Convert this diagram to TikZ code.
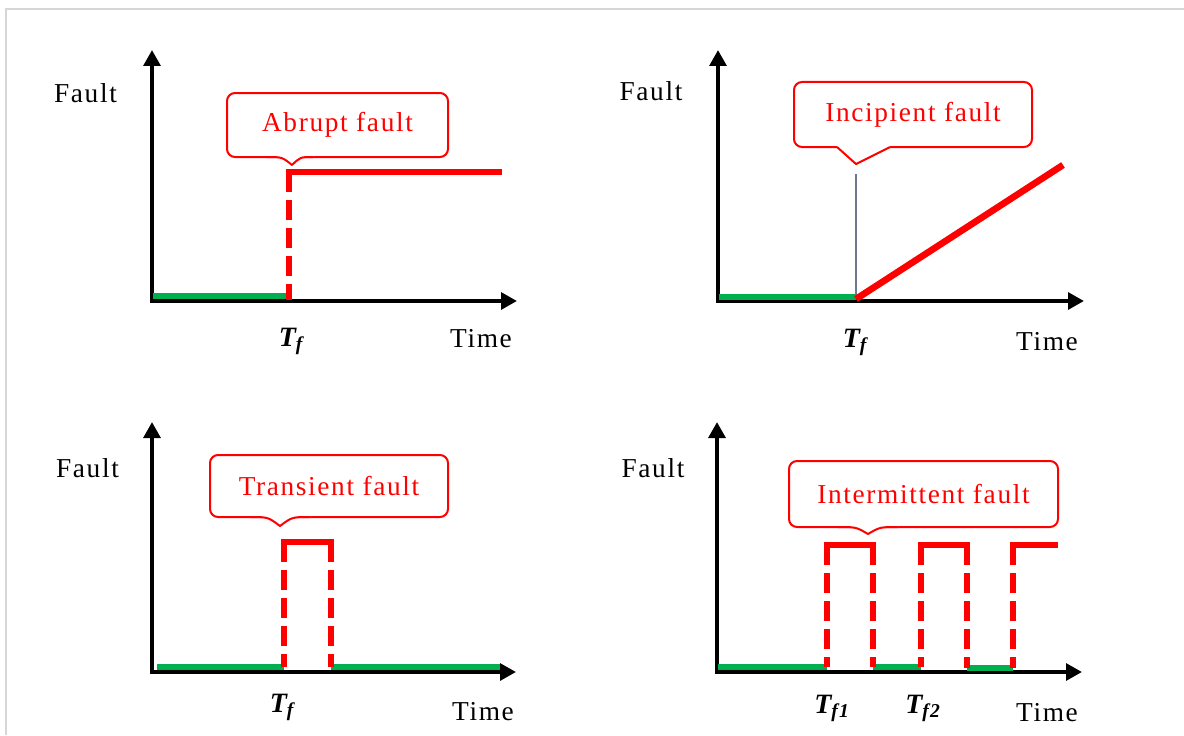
\documentclass[tikz,border=0pt]{standalone}
\usepackage{fontspec}
\setmainfont{Liberation Serif}[LetterSpace=6]
\usetikzlibrary{arrows.meta}
\definecolor{fred}{RGB}{255,0,0}
\definecolor{fgreen}{RGB}{0,176,80}
\definecolor{frameg}{RGB}{214,214,214}
\definecolor{thing}{RGB}{110,120,140}
\begin{document}
\begin{tikzpicture}[x=0.75pt,y=-0.75pt,
  axis/.style={line width=3pt,{Triangle[length=12pt,width=12.5pt]}-{Triangle[length=12pt,width=12.5pt]}},
  okline/.style={line width=4.5pt,fgreen},
  fltline/.style={line width=5pt,fred},
  flttop/.style={fltline,line cap=rect},
  fltdash/.style={fltline,dash pattern=on 15pt off 6pt},
  callbox/.style={draw=fred,line width=1.5pt,rounded corners=6pt,fill=white,text=fred,
    font=\fontsize{20.5}{23}\selectfont,inner sep=0pt},
  ptrline/.style={draw=fred,line width=1.5pt,line join=round},
  lbl/.style={font=\fontsize{20.5}{23}\selectfont,inner sep=0pt},
  tflbl/.style={font=\fontsize{21}{23}\selectfont\bfseries\itshape,inner sep=0pt}
]
\useasboundingbox (0,0) rectangle (1184,735);
\fill[white] (0,0) rectangle (1184,735);
\draw[frameg,line width=1.5pt] (6,735) -- (6,9) -- (1184,9);

% ---------------- Panel 1: Abrupt fault ----------------
\coordinate (A0) at (152,301);
\coordinate (Ay) at (152,50);
\coordinate (Ax) at (517,301);
\draw[axis] (Ay) -- (A0) -- (Ax);
\coordinate (Ag1) at (153,296);
\coordinate (Ag2) at (287,296);
\draw[okline] (Ag1) -- (Ag2);
\coordinate (Ab) at (289,300);
\coordinate (At) at (289,172);
\coordinate (Ae) at (499,172);
\draw[fltdash] (At) -- (Ab);
\draw[flttop] (At) -- (Ae);
\node[callbox,minimum width=221*0.75pt,minimum height=64*0.75pt] (cA) at (337.5,125) {Abrupt fault};
\fill[white] (267,155) -- (267,157) .. controls (282,157) .. (292,165) .. controls (300.4,157) .. (313,157) -- (313,155) -- cycle;
\draw[ptrline] (267,157) .. controls (282,157) .. (292,165) .. controls (300.4,157) .. (313,157);
\node[lbl,anchor=base] (AF) at (85.5,103) {Fault};
\node[tflbl,anchor=base] (AT) at (291,346) {T\textsubscript{f}};
\node[lbl,anchor=base] (ATi) at (481,347) {Time};

% ---------------- Panel 2: Incipient fault ----------------
\coordinate (B0) at (718,301);
\coordinate (By) at (718,50);
\coordinate (Bx) at (1084,301);
\draw[axis] (By) -- (B0) -- (Bx);
\coordinate (Bg1) at (719,297);
\coordinate (Bg2) at (856,297);
\draw[okline] (Bg1) -- (Bg2);
\coordinate (Bv1) at (856,174);
\coordinate (Bv2) at (856,298);
\draw[thing,line width=0.8pt] (Bv1) -- (Bv2);
\coordinate (Bs) at (856,299);
\coordinate (Be) at (1063,165);
\draw[fltline] (Bs) -- (Be);
\node[callbox,minimum width=238*0.75pt,minimum height=65*0.75pt] (cB) at (913,114.5) {Incipient fault};
\fill[white] (837,145) -- (837,147) -- (856,164) -- (890,147) -- (890,145) -- cycle;
\draw[ptrline] (837,147) -- (856,164) -- (890,147);
\node[lbl,anchor=base] (BF) at (651,100) {Fault};
\node[tflbl,anchor=base] (BT) at (855,347) {T\textsubscript{f}};
\node[lbl,anchor=base] (BTi) at (1047,350) {Time};

% ---------------- Panel 3: Transient fault ----------------
\coordinate (C0) at (152,672);
\coordinate (Cy) at (152,422);
\coordinate (Cx) at (516,672);
\draw[axis] (Cy) -- (C0) -- (Cx);
\coordinate (Cg1) at (157,667);
\coordinate (Cg2) at (284,667);
\coordinate (Cg3) at (331,667);
\coordinate (Cg4) at (500,667);
\draw[okline] (Cg1) -- (Cg2);
\draw[okline] (Cg3) -- (Cg4);
\coordinate (Ct1) at (284,542);
\coordinate (Ct2) at (331,542);
\draw[fltdash] (Ct1) -- (Cg2);
\draw[fltdash] (Ct2) -- (Cg3);
\draw[flttop] (Ct1) -- (Ct2);
\node[callbox,minimum width=238*0.75pt,minimum height=62*0.75pt] (cC) at (329,486) {Transient fault};
\fill[white] (250,515) -- (250,517) .. controls (268,517) .. (280,526) .. controls (292,517) .. (310,517) -- (310,515) -- cycle;
\draw[ptrline] (250,517) .. controls (268,517) .. (280,526) .. controls (292,517) .. (310,517);
\node[lbl,anchor=base] (CF) at (87.5,477) {Fault};
\node[tflbl,anchor=base] (CT) at (282,712) {T\textsubscript{f}};
\node[lbl,anchor=base] (CTi) at (483,720) {Time};

% ---------------- Panel 4: Intermittent fault ----------------
\coordinate (D0) at (717,672);
\coordinate (Dy) at (717,422);
\coordinate (Dx) at (1082,672);
\draw[axis] (Dy) -- (D0) -- (Dx);
\coordinate (Dg1) at (718,667);
\coordinate (Dg2) at (827,667);
\coordinate (Dg3) at (873,667);
\coordinate (Dg4) at (921,667);
\coordinate (Dg5) at (967,667.5);
\coordinate (Dg6) at (1013,667.5);
\draw[okline] (Dg1) -- (Dg2);
\draw[okline] (Dg3) -- (Dg4);
\draw[okline] (Dg5) -- (Dg6);
\coordinate (Dt1) at (827,545);
\coordinate (Dt2) at (873,545);
\coordinate (Dt3) at (921,545);
\coordinate (Dt4) at (967,545);
\coordinate (Dt5) at (1013,545);
\coordinate (Dt6) at (1055,545);
\draw[fltdash] (Dt1) -- (Dg2);
\draw[fltdash] (Dt2) -- (Dg3);
\draw[fltdash] (Dt3) -- (Dg4);
\draw[fltdash] (Dt4) -- (Dg5);
\draw[fltdash] (Dt5) -- (Dg6);
\draw[flttop] (Dt1) -- (Dt2);
\draw[flttop] (Dt3) -- (Dt4);
\draw[flttop] (Dt5) -- (Dt6);
\node[callbox,minimum width=269*0.75pt,minimum height=66*0.75pt] (cD) at (923.5,494) {Intermittent fault};
\fill[white] (838,525) -- (838,527) .. controls (856,527) .. (868,534) .. controls (880,527) .. (898,527) -- (898,525) -- cycle;
\draw[ptrline] (838,527) .. controls (856,527) .. (868,534) .. controls (880,527) .. (898,527);
\node[lbl,anchor=base] (DF) at (653,477) {Fault};
\node[tflbl,anchor=base] (DT1) at (832,713) {T\textsubscript{f1}};
\node[tflbl,anchor=base] (DT2) at (923,713) {T\textsubscript{f2}};
\node[lbl,anchor=base] (DTi) at (1047,721) {Time};
\end{tikzpicture}
\end{document}
